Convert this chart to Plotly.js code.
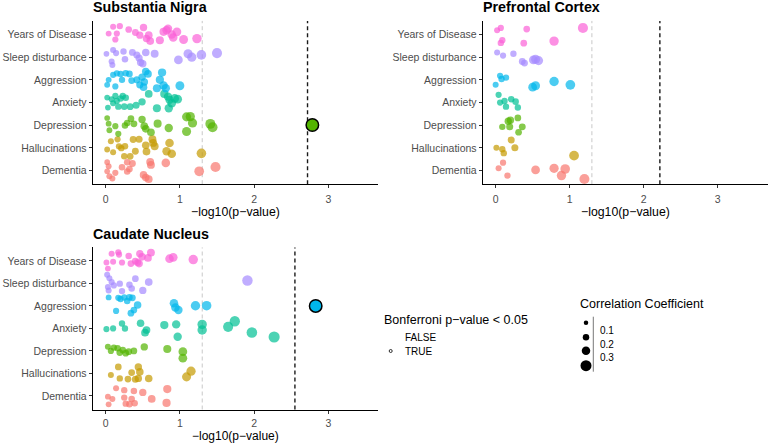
<!DOCTYPE html>
<html>
<head>
<meta charset="utf-8">
<script src="https://cdn.plot.ly/plotly-3.0.1.min.js"></script>
<style>
  html, body { margin: 0; padding: 0; background: #fff; }
  #chart { width: 769px; height: 444px; }
</style>
</head>
<body>
<div id="chart"></div>
<script>
// categories from bottom to top
const cats = ["Dementia", "Hallucinations", "Depression", "Anxiety", "Aggression", "Sleep disturbance", "Years of Disease"];
const catColors = ["#F8766D", "#C49A00", "#53B400", "#00C094", "#00B6EB", "#A58AFF", "#FB61D7"];
const panels = ["Substantia Nigra", "Prefrontal Cortex", "Caudate Nucleus"];
const xTicks = [0, 1, 2, 3];
const nominalLine = 1.301;          // -log10(0.05)
const bonfLine = [2.72, 2.22, 2.55]; // Bonferroni thresholds per panel

// Substantia Nigra: -log10(p), jitter, correlation
const snX = [
  [0.02,0.04,0.02,0.05,0.09,0.13,0.22,0.29,0.29,0.32,0.36,0.51,0.54,0.58,0.60,0.61,0.81,1.26,1.48],
  [0.02,0.07,0.10,0.16,0.18,0.21,0.26,0.25,0.33,0.37,0.40,0.45,0.54,0.55,0.63,0.64,0.66,0.82,0.86,0.89,1.29],
  [0.02,0.04,0.05,0.13,0.17,0.26,0.29,0.34,0.38,0.49,0.52,0.54,0.61,0.70,0.85,1.09,1.14,1.17,1.09,1.41,1.44],
  [0.02,0.03,0.08,0.10,0.13,0.15,0.17,0.20,0.23,0.27,0.25,0.33,0.41,0.49,0.58,0.69,0.79,0.84,0.86,0.89,0.93,0.97,0.85],
  [0.02,0.04,0.10,0.13,0.15,0.20,0.22,0.27,0.32,0.35,0.42,0.46,0.49,0.52,0.54,0.57,0.51,0.69,0.73,0.76,0.78,0.81,1.00],
  [0.01,0.10,0.14,0.08,0.09,0.24,0.26,0.36,0.42,0.45,0.47,0.50,0.54,0.66,0.98,1.11,1.16,1.29,1.50],
  [0.04,0.10,0.19,0.13,0.15,0.31,0.40,0.46,0.51,0.55,0.60,0.58,0.73,0.78,0.82,0.89,0.91,0.96,1.05,1.23,0.84]
];
const snJ = [
  [0.37,0.19,-0.03,-0.25,-0.35,-0.10,0.15,0.37,-0.04,0.07,0.31,-0.19,-0.31,-0.38,0.38,0.25,0.34,-0.03,0.16],
  [-0.07,0.29,-0.19,0.38,0.07,-0.01,0.07,-0.37,-0.37,0.37,-0.15,0.38,0.12,-0.16,0.38,0.22,0.07,-0.15,0.22,-0.26,-0.24],
  [0.32,0.07,-0.22,-0.04,-0.38,-0.01,0.10,0.29,0.06,0.25,-0.04,-0.16,-0.31,0.07,-0.12,0.37,0.38,0.10,-0.28,0.06,-0.09],
  [0.22,-0.22,0.15,-0.03,0.29,0.07,-0.18,0.18,0.29,0.21,-0.18,-0.18,-0.12,0.03,0.38,-0.25,0.38,0.26,0.12,-0.03,0.18,0.15,-0.25],
  [-0.22,0.00,0.22,-0.29,0.29,0.26,0.00,0.29,0.26,-0.03,0.00,-0.22,0.12,-0.09,0.37,0.26,-0.32,-0.37,0.00,0.32,-0.25,-0.37,-0.26],
  [0.15,0.32,0.18,-0.19,-0.34,0.25,-0.09,0.21,0.10,-0.04,-0.23,-0.29,0.21,0.15,-0.12,0.15,0.00,0.10,0.18],
  [0.04,0.34,0.37,-0.22,0.04,0.22,0.09,-0.03,0.31,-0.18,-0.29,-0.03,-0.25,0.12,0.19,0.00,-0.13,0.12,-0.22,-0.18,0.26]
];
const snR = [
  [0.04,0.05,0.04,0.06,0.06,0.07,0.09,0.09,0.09,0.10,0.11,0.15,0.15,0.16,0.17,0.17,0.21,0.28,0.30],
  [0.05,0.06,0.06,0.07,0.08,0.08,0.09,0.08,0.10,0.11,0.11,0.12,0.15,0.16,0.17,0.17,0.17,0.20,0.21,0.21,0.27],
  [0.04,0.05,0.05,0.07,0.07,0.09,0.09,0.10,0.11,0.14,0.15,0.15,0.16,0.18,0.20,0.24,0.25,0.25,0.24,0.29,0.29],
  [0.04,0.04,0.06,0.06,0.07,0.07,0.08,0.08,0.08,0.09,0.09,0.10,0.12,0.14,0.16,0.18,0.19,0.20,0.20,0.21,0.22,0.22,0.20],
  [0.05,0.05,0.06,0.07,0.07,0.08,0.08,0.09,0.10,0.10,0.12,0.13,0.14,0.15,0.15,0.16,0.15,0.18,0.19,0.19,0.20,0.20,0.23],
  [0.04,0.06,0.07,0.06,0.06,0.08,0.09,0.11,0.12,0.13,0.13,0.14,0.15,0.17,0.22,0.24,0.25,0.27,0.30],
  [0.05,0.06,0.08,0.07,0.07,0.10,0.11,0.13,0.14,0.15,0.16,0.16,0.18,0.19,0.20,0.21,0.21,0.22,0.23,0.26,0.20]
];

// Prefrontal Cortex
const pfX = [
  [0.04,0.10,0.16,0.54,0.79,0.94,0.89,1.20],
  [0.01,0.09,0.11,0.26,0.21,1.06],
  [0.09,0.17,0.20,0.19,0.30,0.36,0.31],
  [0.04,0.06,0.12,0.21,0.27,0.14,0.30],
  [0.06,0.08,0.14,0.00,0.50,0.54,0.79,1.01],
  [0.02,0.10,0.24,0.36,0.39,0.51,0.54,0.58],
  [0.02,0.07,0.42,1.18,0.07,0.09,0.38,0.79]
];
const pfJ = [
  [0.10,0.35,-0.22,0.03,0.10,0.07,-0.22,-0.37],
  [0.01,-0.06,-0.23,0.01,0.35,-0.34],
  [-0.07,0.18,0.22,-0.07,0.32,-0.07,-0.31],
  [0.34,0.00,0.07,0.15,0.04,-0.18,-0.22],
  [0.18,0.04,0.10,-0.22,-0.32,-0.26,-0.07,-0.22],
  [0.21,0.07,0.15,-0.19,-0.26,-0.12,-0.09,-0.15],
  [0.19,0.29,0.24,0.29,-0.37,-0.25,-0.38,-0.29]
];
const pfR = [
  [0.06,0.07,0.08,0.22,0.25,0.27,0.26,0.30],
  [0.06,0.08,0.08,0.12,0.12,0.28],
  [0.08,0.13,0.14,0.12,0.10,0.11,0.10],
  [0.07,0.07,0.08,0.09,0.09,0.08,0.08],
  [0.07,0.08,0.08,0.06,0.22,0.23,0.26,0.28],
  [0.06,0.07,0.08,0.11,0.11,0.22,0.23,0.24],
  [0.06,0.07,0.10,0.30,0.08,0.08,0.10,0.26]
];

// Caudate Nucleus
const cnX = [
  [0.03,0.09,0.04,0.14,0.25,0.25,0.27,0.35,0.38,0.32,0.39,0.50,0.62,0.83,0.82],
  [0.17,0.07,0.19,0.30,0.35,0.40,0.44,0.46,0.44,0.58,1.09,1.15],
  [0.03,0.07,0.11,0.16,0.19,0.23,0.27,0.31,0.38,0.52,0.83,1.04,1.04],
  [0.01,0.10,0.22,0.26,0.47,0.55,0.53,0.79,0.95,0.97,1.30,1.30,1.65,1.74,1.97,2.27],
  [0.04,0.17,0.20,0.25,0.29,0.32,0.36,0.43,0.14,0.34,0.38,0.92,0.94,0.98,1.21,1.36],
  [0.02,0.05,0.08,0.03,0.04,0.11,0.19,0.22,0.32,0.35,0.40,0.50,0.58,1.91],
  [0.08,0.17,0.18,0.01,0.10,0.22,0.31,0.34,0.40,0.46,0.49,0.45,0.57,0.61,0.43,0.86,0.91,1.18,0.03]
];
const cnJ = [
  [-0.03,-0.13,-0.37,0.34,0.26,-0.07,-0.34,-0.13,0.22,-0.37,-0.32,0.16,-0.13,0.31,-0.31],
  [0.29,-0.07,-0.22,-0.25,0.04,-0.26,0.29,0.07,-0.22,-0.22,-0.15,0.10],
  [0.19,0.00,0.15,0.12,-0.07,0.04,-0.10,-0.03,0.00,0.18,0.09,-0.03,-0.32],
  [-0.03,0.00,0.22,0.00,0.23,-0.07,-0.19,0.15,0.18,-0.37,0.18,-0.07,0.07,0.32,-0.18,-0.38],
  [0.38,0.36,0.31,0.38,0.22,0.38,0.36,0.04,-0.22,-0.32,-0.18,0.12,-0.07,-0.18,0.01,0.01],
  [0.38,0.23,0.06,-0.16,-0.31,-0.09,-0.01,-0.34,-0.06,-0.23,0.21,-0.31,0.06,0.13],
  [0.32,0.38,0.28,-0.07,-0.04,-0.07,0.22,-0.12,-0.01,0.32,0.18,-0.12,0.13,0.37,-0.07,0.10,0.16,0.06,-0.34]
];
const cnR = [
  [0.05,0.06,0.05,0.06,0.08,0.08,0.08,0.09,0.09,0.09,0.09,0.14,0.16,0.19,0.19],
  [0.10,0.06,0.08,0.10,0.10,0.12,0.14,0.15,0.14,0.15,0.24,0.25],
  [0.06,0.07,0.08,0.09,0.10,0.10,0.10,0.11,0.10,0.14,0.18,0.22,0.22],
  [0.06,0.07,0.08,0.08,0.15,0.16,0.16,0.19,0.20,0.20,0.26,0.26,0.30,0.31,0.33,0.36],
  [0.05,0.07,0.08,0.08,0.09,0.09,0.10,0.15,0.07,0.10,0.10,0.21,0.21,0.20,0.26,0.27],
  [0.06,0.06,0.07,0.06,0.06,0.07,0.08,0.08,0.09,0.09,0.10,0.14,0.16,0.32],
  [0.06,0.07,0.07,0.05,0.06,0.07,0.09,0.10,0.11,0.14,0.15,0.15,0.16,0.17,0.12,0.21,0.22,0.26,0.05]
];

// Bonferroni-significant points (panel index, category index, x, jitter, r)
const sigPanel = [0, 2];
const sigCat = [2, 4];
const sigX = [2.785, 2.83];
const sigJ = [0.01, 0.0];
const sigR = [0.44, 0.44];

const W = 769, H = 444;
const font = "Liberation Sans, Arial, Helvetica, sans-serif";
const sizeOf = r => 5 + 17 * r;
const px = x => x / W;
const py = y => 1 - y / H;

const allX = [snX, pfX, cnX], allJ = [snJ, pfJ, cnJ], allR = [snR, pfR, cnR];
const axSuffix = ["", "2", "3"];

const traces = [];
for (let p = 0; p < 3; p++) {
  for (let c = 0; c < cats.length; c++) {
    traces.push({
      type: "scatter", mode: "markers",
      x: allX[p][c],
      y: allJ[p][c].map(j => c + j),
      xaxis: "x" + axSuffix[p], yaxis: "y" + axSuffix[p],
      marker: { color: catColors[c], size: allR[p][c].map(sizeOf), line: { width: 0 } },
      hoverinfo: "x", showlegend: false
    });
  }
}
for (let k = 0; k < sigX.length; k++) {
  const p = sigPanel[k];
  traces.push({
    type: "scatter", mode: "markers",
    x: [sigX[k]], y: [sigCat[k] + sigJ[k]],
    xaxis: "x" + axSuffix[p], yaxis: "y" + axSuffix[p],
    marker: { color: catColors[sigCat[k]], size: sizeOf(sigR[k]), line: { width: 1.5, color: "#000" } },
    hoverinfo: "x", showlegend: false
  });
}

function xAxis(domain, anchor, standoff) {
  return {
    domain: domain, anchor: anchor, range: [-0.175, 3.675],
    tickvals: xTicks, ticks: "outside", ticklen: 3, tickcolor: "#333", tickwidth: 1,
    ticklabelstandoff: standoff,
    showline: true, linecolor: "#000", linewidth: 1,
    showgrid: false, zeroline: false,
    tickfont: { family: font, size: 10.5, color: "#4D4D4D" }
  };
}
function yAxis(domain, anchor) {
  return {
    domain: domain, anchor: anchor, range: [-0.6, 6.6],
    tickvals: cats.map((_, i) => i), ticktext: cats,
    ticks: "outside", ticklen: 3, tickcolor: "#333", tickwidth: 1,
    showline: true, linecolor: "#000", linewidth: 1,
    showgrid: false, zeroline: false,
    tickfont: { family: font, size: 10.5, color: "#4D4D4D" }
  };
}

const xDomL = [92.7 / W, 378.4 / W];
const xDomR = [482.7 / W, 767.5 / W];
const yDomT = [py(184.2), py(20.9)];
const yDomB = [py(409.5), py(247.4)];

const shapes = [];
for (let p = 0; p < 3; p++) {
  shapes.push({
    type: "line", xref: "x" + axSuffix[p], yref: "y" + axSuffix[p] + " domain",
    x0: nominalLine, x1: nominalLine, y0: 0, y1: 1, layer: "below",
    line: { color: "#C8C8C8", width: 1, dash: "4px,3px" }
  });
  shapes.push({
    type: "line", xref: "x" + axSuffix[p], yref: "y" + axSuffix[p] + " domain",
    x0: bonfLine[p], x1: bonfLine[p], y0: 0, y1: 1, layer: "below",
    line: { color: "#1a1a1a", width: 1.4, dash: "4px,3px" }
  });
}

// size legend keys
const legKeyY = [322.7, 337.3, 350.7, 365.7];
const legKeyD = [4.5, 6.5, 8.5, 11];
for (let k = 0; k < legKeyY.length; k++) {
  const d = legKeyD[k];
  shapes.push({
    type: "circle", xref: "paper", yref: "paper",
    x0: px(586 - d / 2), x1: px(586 + d / 2), y0: py(legKeyY[k] + d / 2), y1: py(legKeyY[k] - d / 2),
    fillcolor: "#000", line: { width: 0 }
  });
}
shapes.push({
  type: "line", xref: "paper", yref: "paper",
  x0: px(593.3), x1: px(593.3), y0: py(316.7), y1: py(371.7),
  line: { color: "#555", width: 0.8 }
});
// shape legend: open circle for TRUE
shapes.push({
  type: "circle", xref: "paper", yref: "paper",
  x0: px(389.2), x1: px(392.2), y0: py(352.5), y1: py(349.5),
  line: { color: "#000", width: 0.8 }, fillcolor: "rgba(0,0,0,0)"
});

const ann = (text, x, y, size, opts) => Object.assign({
  text: text, xref: "paper", yref: "paper", x: px(x), y: py(y),
  xanchor: "left", yanchor: "middle", showarrow: false, borderpad: 0,
  font: { family: font, size: size, color: "#000" }
}, opts || {});

const annotations = [
  ann("<b>" + panels[0] + "</b>", 92, 7.5, 14.3),
  ann("<b>" + panels[1] + "</b>", 482, 7.5, 14.3),
  ann("<b>" + panels[2] + "</b>", 92, 234, 14.3),
  ann("\u2212log10(p\u2212value)", 235.5, 212, 12.3, { xanchor: "center" }),
  ann("\u2212log10(p\u2212value)", 625, 212, 12.3, { xanchor: "center" }),
  ann("\u2212log10(p\u2212value)", 235.5, 436, 12, { xanchor: "center" }),
  ann("Bonferroni p\u2212value < 0.05", 383, 320, 12.5),
  ann("FALSE", 404, 337.7, 10),
  ann("TRUE", 404, 351, 10),
  ann("Correlation Coefficient", 579, 304, 12.5),
  ann("0.1", 599, 330.7, 10),
  ann("0.2", 599, 344, 10),
  ann("0.3", 599, 357.3, 10)
];

const layout = {
  width: W, height: H,
  margin: { l: 0, r: 0, t: 0, b: 0, pad: 0 },
  paper_bgcolor: "#fff", plot_bgcolor: "#fff",
  showlegend: false,
  xaxis: xAxis(xDomL, "y", 2), yaxis: yAxis(yDomT, "x"),
  xaxis2: xAxis(xDomR, "y2", 2), yaxis2: yAxis(yDomT, "x2"),
  xaxis3: xAxis(xDomL, "y3", 1), yaxis3: yAxis(yDomB, "x3"),
  shapes: shapes,
  annotations: annotations
};

Plotly.newPlot("chart", traces, layout, { displayModeBar: false, staticPlot: true });
</script>
</body>
</html>
